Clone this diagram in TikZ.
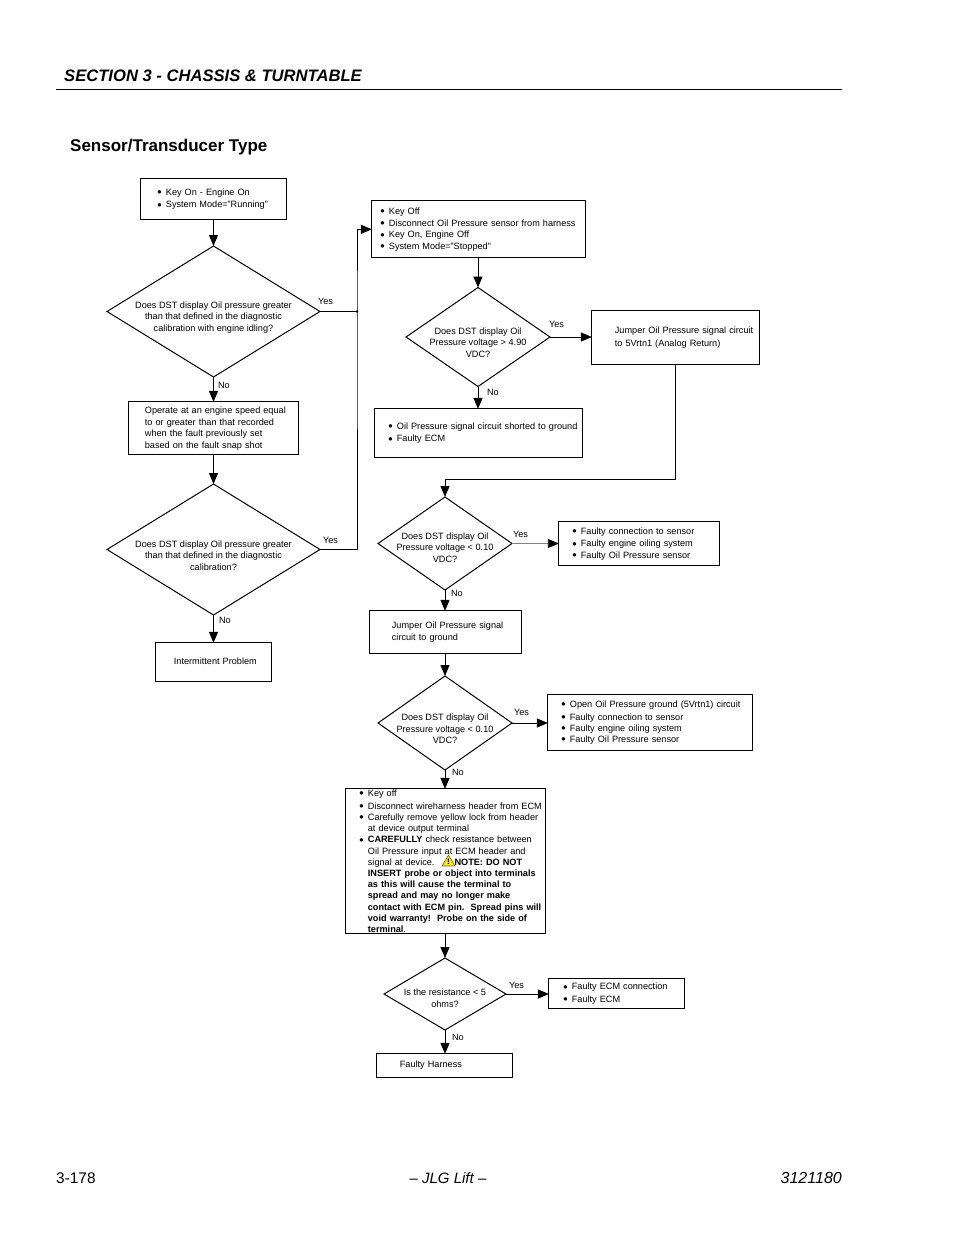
\documentclass[tikz,border=0pt]{standalone}
\usepackage{fontspec}
\setmainfont{Liberation Sans}
\usetikzlibrary{shapes.geometric,arrows.meta}
\newcommand\bl{\makebox[8pt][l]{\raisebox{-1.2pt}[0pt][0pt]{\fontsize{12.5}{11.2}\selectfont\hspace{-0.6pt}\textbullet}}}
\newcommand\ind{\hspace*{8pt}}
\newcommand\dtext[2]{\raisebox{#1pt}[0pt][0pt]{\makebox[0pt]{\begin{tabular}{@{}c@{}}#2\end{tabular}}}}
\tikzset{
  x=1pt,y=-1pt,
  txt/.style={font=\fontsize{9.15}{11.2}\selectfont,inner sep=0pt,outer sep=0pt},
  lbl/.style={txt,anchor=west},
  box/.style n args={3}{txt,draw=black,line width=1pt,anchor=north west,xshift=-0.1pt,yshift=0.1pt,
    minimum width=#1pt+0.8pt,minimum height=#2pt+0.8pt,text width=#1pt-3.2pt,inner xsep=2pt,inner ysep=-3pt,
    execute at begin node={\leftskip=\dimexpr#3pt-2pt\relax\rightskip=0pt plus 1fil\parindent=0pt\hyphenpenalty=10000\relax\vspace*{1.4pt}}},
  dia/.style 2 args={txt,shape=diamond,draw=black,line width=1pt,minimum width=#1pt,minimum height=#2pt},
  conn/.style={draw=black,line width=1pt},
  arr/.style={conn,-{Triangle[length=11pt,width=9pt]}},
  faint/.style={draw=black!50,line width=0.8pt,-{Triangle[length=11pt,width=9pt,black]}},
  head/.style={inner sep=0pt,anchor=base west},
}
\begin{document}
\begin{tikzpicture}
\useasboundingbox (0,0) rectangle (954,1235);
% page furniture
\node[head,font=\fontsize{16.6}{20}\selectfont\bfseries\itshape] (sec) at (64,81) {SECTION 3 - CHASSIS \& TURNTABLE};
\coordinate (ruleL) at (56,89.5); \coordinate (ruleR) at (842,89.5);
\draw[line width=1pt] (ruleL) -- (ruleR);
\node[head,font=\fontsize{17}{20}\selectfont\bfseries] (title) at (70,151) {Sensor/Transducer Type};
\node[head,font=\fontsize{15.4}{18}\selectfont] (pg) at (56,1183) {3-178};
\node[inner sep=0pt,anchor=base,font=\fontsize{15}{18}\selectfont\itshape] (mid) at (448,1183) {-- JLG Lift --};
\node[inner sep=0pt,anchor=base east,font=\fontsize{16}{18}\selectfont\itshape] (doc) at (842,1183) {3121180};
% left column
\node[box={145}{40}{17}] (b1) at (141,179) {\bl Key On - Engine On\\\bl System Mode="Running"};
\node[dia={213}{131}] (d1) at (213.5,311.5) {\dtext{-8.5}{Does DST display Oil pressure greater\\than that defined in the diagnostic\\calibration with engine idling?}};
\node[box={169}{52}{16}] (b3) at (129,402) {Operate at an engine speed equal\\to or greater than that recorded\\when the fault previously set\\based on the fault snap shot};
\node[dia={213}{131}] (d3) at (213.5,549.5) {\dtext{-9.5}{Does DST display Oil pressure greater\\than that defined in the diagnostic\\calibration?}};
\node[box={115}{38}{18}] (b5) at (156,643) {Intermittent Problem};
% right column
\node[box={213}{56}{9}] (b2) at (372,201) {\bl Key Off\\\bl Disconnect Oil Pressure sensor from harness\\\bl Key On, Engine Off\\\bl System Mode="Stopped"};
\node[dia={144}{99}] (d2) at (478,337) {\dtext{-9}{Does DST display Oil\\Pressure voltage > 4.90\\VDC?}};
\node[box={167}{53}{23}] (bj) at (592,311) {Jumper Oil Pressure signal circuit\\to 5Vrtn1 (Analog Return)};
\node[box={207}{48}{14}] (b4) at (375,409) {\bl Oil Pressure signal circuit shorted to ground\\\bl Faulty ECM};
\node[dia={134}{93}] (d4) at (445,543.5) {\dtext{-7.5}{Does DST display Oil\\Pressure voltage < 0.10\\VDC?}};
\node[box={160}{43}{14}] (b6) at (559,522) {\bl Faulty connection to sensor\\\bl Faulty engine oiling system\\\bl Faulty Oil Pressure sensor};
\node[box={151}{42}{22}] (b7) at (370,611) {Jumper Oil Pressure signal\\circuit to ground};
\node[dia={134}{94}] (d5) at (445,723) {\dtext{-9}{Does DST display Oil\\Pressure voltage < 0.10\\VDC?}};
\node[box={204}{55}{14}] (b8) at (548,695) {\bl Open Oil Pressure ground (5Vrtn1) circuit\\\bl Faulty connection to sensor\\\bl Faulty engine oiling system\\\bl Faulty Oil Pressure sensor};
\node[box={199}{144}{14}] (b9) at (346,789) {\bl Key off\\\bl Disconnect wireharness header from ECM\\\bl Carefully remove yellow lock from header\\\ind at device output terminal\\\bl \textbf{CAREFULLY} check resistance between\\\ind Oil Pressure input at ECM header and\\\ind signal at device.\hspace{20pt}\textbf{NOTE: DO NOT}\\\ind \textbf{INSERT probe or object into terminals}\\\ind \textbf{as this will cause the terminal to}\\\ind \textbf{spread and may no longer make}\\\ind \textbf{contact with ECM pin.\ \ Spread pins will}\\\ind \textbf{void warranty!\ \ Probe on the side of}\\\ind \textbf{terminal}.};
\coordinate (w1) at (448.5,855); \coordinate (w2) at (455,866); \coordinate (w3) at (442,866);
\draw[fill=yellow!90!orange,draw=black!70!yellow,line width=0.6pt] (w1) -- (w2) -- (w3) -- cycle;
\node[txt,font=\fontsize{8}{8}\selectfont\bfseries] (wx) at (448.5,861.5) {!};
\node[dia={122}{72}] (d6) at (445,994) {\dtext{-7.5}{Is the resistance < 5\\ohms?}};
\node[box={135}{29}{15}] (b10) at (549,979) {\bl Faulty ECM connection\\\bl Faulty ECM};
\node[box={135}{23}{23}] (b11) at (377,1054) {Faulty Harness};
% connectors
\draw[arr] (b1.south -| d1.north) -- (d1.north);
\draw[arr] (d1.south) -- (d1.south |- b3.north);
\draw[arr] (b3.south -| d3.north) -- (d3.north);
\draw[arr] (d3.south) -- (d3.south |- b5.north);
\coordinate (m) at (357,311.5);
\draw[conn] (d1.east) -- (m);
\fill (m) circle (1.3);
\draw[arr] (d3.east) -| (m) |- (b2.west);
\draw[arr] (b2.south -| d2.north) -- (d2.north);
\draw[arr] (d2.east) -- (d2.east -| bj.west);
\draw[arr] (d2.south) -- (d2.south |- b4.north);
\coordinate (j) at (445,479.5);
\draw[arr] (bj.south) |- (j) -- (d4.north);
\draw[faint] (d4.east) -- (d4.east -| b6.west);
\draw[arr] (d4.south) -- (d4.south |- b7.north);
\draw[arr] (b7.south -| d5.north) -- (d5.north);
\draw[arr] (d5.east) -- (d5.east -| b8.west);
\draw[arr] (d5.south) -- (d5.south |- b9.north);
\draw[arr] (b9.south -| d6.north) -- (d6.north);
\draw[arr] (d6.east) -- (d6.east -| b10.west);
\draw[arr] (d6.south) -- (d6.south |- b11.north);
% branch labels
\node[lbl] (y1) at (318,301) {Yes};
\node[lbl] (n1) at (218,385) {No};
\node[lbl] (y3) at (323,540) {Yes};
\node[lbl] (n3) at (219,620) {No};
\node[lbl] (y2) at (549,324) {Yes};
\node[lbl] (n2) at (487,392) {No};
\node[lbl] (y4) at (513,534) {Yes};
\node[lbl] (n4) at (451,593) {No};
\node[lbl] (y5) at (514,712) {Yes};
\node[lbl] (n5) at (452,772) {No};
\node[lbl] (y6) at (509,985) {Yes};
\node[lbl] (n6) at (452,1037) {No};
\end{tikzpicture}
\end{document}
